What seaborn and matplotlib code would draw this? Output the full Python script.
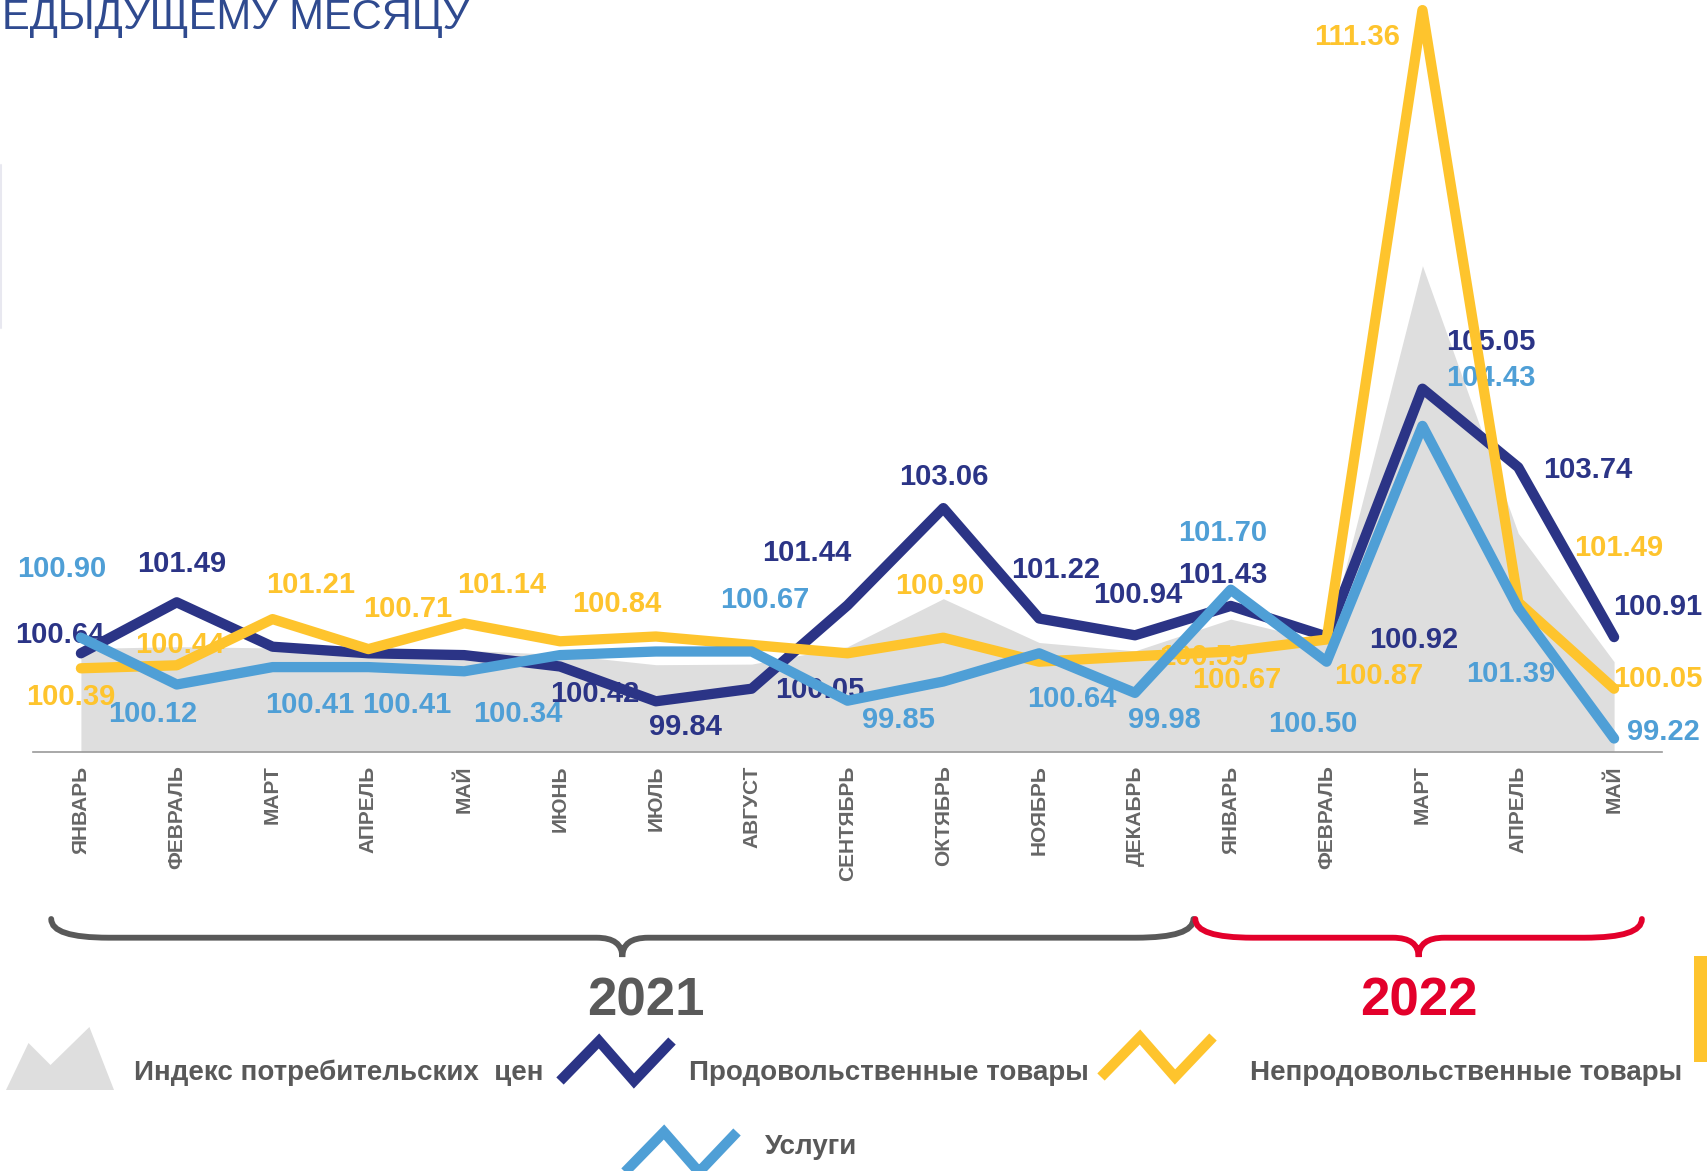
import matplotlib.pyplot as plt
import numpy as np
import pandas as pd
import seaborn as sns
from matplotlib.lines import Line2D
from matplotlib.patches import PathPatch, Polygon, Rectangle
from matplotlib.path import Path
from matplotlib.transforms import blended_transform_factory

# ── data ──
months = ["ЯНВАРЬ", "ФЕВРАЛЬ", "МАРТ", "АПРЕЛЬ", "МАЙ", "ИЮНЬ", "ИЮЛЬ", "АВГУСТ",
          "СЕНТЯБРЬ", "ОКТЯБРЬ", "НОЯБРЬ", "ДЕКАБРЬ",
          "ЯНВАРЬ", "ФЕВРАЛЬ", "МАРТ", "АПРЕЛЬ", "МАЙ"]
cpi = [100.72, 100.75, 100.73, 100.67, 100.69, 100.62, 100.45, 100.46, 100.75,
       101.55, 100.82, 100.68, 101.21, 100.82, 107.10, 102.64, 100.50]
food = [100.64, 101.49, 100.75, 100.64, 100.61, 100.42, 99.84, 100.05, 101.44,
        103.06, 101.22, 100.94, 101.43, 100.92, 105.05, 103.74, 100.91]
nonfood = [100.39, 100.44, 101.21, 100.71, 101.14, 100.84, 100.92, 100.78, 100.64,
           100.90, 100.50, 100.59, 100.67, 100.87, 111.36, 101.49, 100.05]
services = [100.90, 100.12, 100.41, 100.41, 100.34, 100.61, 100.67, 100.67, 99.85,
            100.17, 100.64, 99.98, 101.70, 100.50, 104.43, 101.39, 99.22]

SERIES = ["Продовольственные товары", "Непродовольственные товары", "Услуги"]
COLORS = {SERIES[0]: "#2b3486", SERIES[1]: "#fec42d", SERIES[2]: "#4f9fd6"}
CPI_GREY = "#dedede"
INK = "#595959"

# label offsets in pixels from the point (only labelled months are listed)
LABEL_OFFSETS = {
    SERIES[0]: {0: (-21, 18), 1: (5, 38), 5: (35, -28), 6: (30, -26), 7: (68, -1),
                8: (-41, 52), 9: (0, 31), 10: (16, 49), 11: (3, 40), 12: (-8, 31),
                13: (87, -3), 14: (68, 47), 15: (69, -3), 16: (44, 30)},
    SERIES[1]: {0: (-10, -29), 1: (3, 20), 2: (38, 34), 3: (39, 40), 4: (37, 38),
                5: (57, 37), 9: (-4, 52), 11: (69, -1), 12: (6, -29), 13: (52, -37),
                14: (-65, -27), 15: (100, 54), 16: (44, 10)},
    SERIES[2]: {0: (-19, 69), 1: (-24, -30), 2: (37, -38), 3: (38, -38), 4: (54, -43),
                7: (13, 51), 8: (51, -19), 10: (33, -46), 11: (29, -27), 12: (-8, 57),
                13: (-14, -62), 14: (68, 48), 15: (-8, -66), 16: (49, 7)},
}

W, H = 1708, 1171


def fp(x, y):
    """pixel (from top-left) -> figure fraction"""
    return x / W, 1 - y / H


sns.set_style("white")
plt.rcParams["font.family"] = ["Liberation Sans", "DejaVu Sans"]

idx = np.arange(len(months))
long = pd.concat([
    pd.DataFrame({"idx": idx, "value": vals, "series": name})
    for name, vals in zip(SERIES, (food, nonfood, services))
])

fig = plt.figure(figsize=(W / 100, H / 100), dpi=100)
ax = fig.add_axes([33 / W, 1 - 751.7 / H, 1629 / W, 751.7 / H])

ax.fill_between(idx, 99, cpi, color=CPI_GREY, linewidth=0, zorder=0.5)
sns.lineplot(data=long, x="idx", y="value", hue="series", hue_order=SERIES,
             palette=COLORS, linewidth=7.4, legend=False, sort=False, ax=ax, zorder=3)
for line in ax.lines:
    line.set_solid_capstyle("round")
    line.set_solid_joinstyle("round")
    line.set_clip_on(False)

values = {SERIES[0]: food, SERIES[1]: nonfood, SERIES[2]: services}
for name in SERIES:
    for i, (dx, dy) in LABEL_OFFSETS[name].items():
        v = values[name][i]
        ax.annotate(f"{v:.2f}", xy=(i, v), xytext=(dx, dy), textcoords="offset pixels",
                    ha="center", va="center", fontsize=21, fontweight="bold",
                    color=COLORS[name], zorder=2, annotation_clip=False)

ax.set_xlim(-0.5, len(months) - 0.5)
ax.set_ylim(99, 99 + 751.7 / 60)
ax.set_xlabel("")
ax.set_ylabel("")
ax.set_yticks([])
for side in ("top", "right", "left"):
    ax.spines[side].set_visible(False)
ax.spines["bottom"].set_color("#9a9a9a")
ax.spines["bottom"].set_linewidth(1.2)
ax.set_xticks(idx, months)
ax.set_xticks(np.arange(-0.5, len(months), 1), minor=True)
ax.tick_params(axis="x", which="major", length=0, pad=10)
ax.tick_params(axis="x", which="minor", length=6, width=1.1, color="#9a9a9a")
for lab in ax.get_xticklabels():
    lab.set_rotation(90)
    lab.set_fontsize(15)
    lab.set_fontweight("bold")
    lab.set_color("#666666")

# ── year braces ──
bt = blended_transform_factory(ax.transData, fig.transFigure)


def brace(x0, x1, color):
    xm = (x0 + x1) / 2
    y_end, y_h, y_tip = (1 - 919 / H), (1 - 937.7 / H), (1 - 957 / H)
    r, rt = 0.6, 0.27
    verts = [(x0, y_end), (x0, y_h), (x0 + r, y_h),
             (xm - rt, y_h), (xm, y_h), (xm, y_tip),
             (xm, y_h), (xm + rt, y_h),
             (x1 - r, y_h), (x1, y_h), (x1, y_end)]
    codes = [Path.MOVETO, Path.CURVE3, Path.CURVE3,
             Path.LINETO, Path.CURVE3, Path.CURVE3,
             Path.CURVE3, Path.CURVE3,
             Path.LINETO, Path.CURVE3, Path.CURVE3]
    fig.add_artist(PathPatch(Path(verts, codes), transform=bt, fill=False,
                             edgecolor=color, linewidth=4.2, capstyle="round"))
    return xm


xm21 = brace(-0.31, 11.61, INK)
xm22 = brace(11.63, 16.29, "#e3002b")
fig.text(xm21 + 0.25, 1 - 1002 / H, "2021", transform=bt, ha="center", va="center",
         fontsize=38, fontweight="bold", color=INK)
fig.text(xm22, 1 - 1002 / H, "2022", transform=bt, ha="center", va="center",
         fontsize=38, fontweight="bold", color="#e3002b")

# ── legend ──
fig.add_artist(Polygon([fp(6, 1090), fp(28.5, 1043), fp(50.5, 1065), fp(89.4, 1027),
                        fp(114, 1090)], closed=True, transform=fig.transFigure,
                       facecolor=CPI_GREY, edgecolor="none"))


def zigzag(x, y, color):
    pts = [fp(x, y), fp(x + 39, y - 40), fp(x + 74, y), fp(x + 112, y - 40)]
    fig.add_artist(Line2D([p[0] for p in pts], [p[1] for p in pts], color=color,
                          linewidth=7.4, solid_joinstyle="miter", solid_capstyle="butt",
                          transform=fig.transFigure))


zigzag(560, 1081, COLORS[SERIES[0]])
zigzag(1101, 1077, COLORS[SERIES[1]])
zigzag(625, 1172, COLORS[SERIES[2]])

legend_text = [("Индекс потребительских  цен", 134, 1073), (SERIES[0], 689, 1073),
               (SERIES[1], 1250, 1073), (SERIES[2], 765, 1147)]
for txt, x, y in legend_text:
    fig.text(*fp(x, y), txt, ha="left", va="center", fontsize=20,
             fontweight="bold", color=INK)

# ── slide fragments ──
fig.text(*fp(469, 29), "ЕДЫДУЩЕМУ МЕСЯЦУ", ha="right", va="baseline",
         fontsize=30, color="#2f4a8f")
fig.add_artist(Line2D([fp(1, 0)[0]] * 2, [fp(0, 165)[1], fp(0, 328)[1]],
                      color="#e8e8f0", linewidth=1.5, transform=fig.transFigure))
fig.add_artist(Rectangle(fp(1694, 1062), 14 / W, 106 / H, transform=fig.transFigure,
                         facecolor="#fec42d", edgecolor="none"))

fig.savefig("out.png", dpi=100, facecolor="white")
